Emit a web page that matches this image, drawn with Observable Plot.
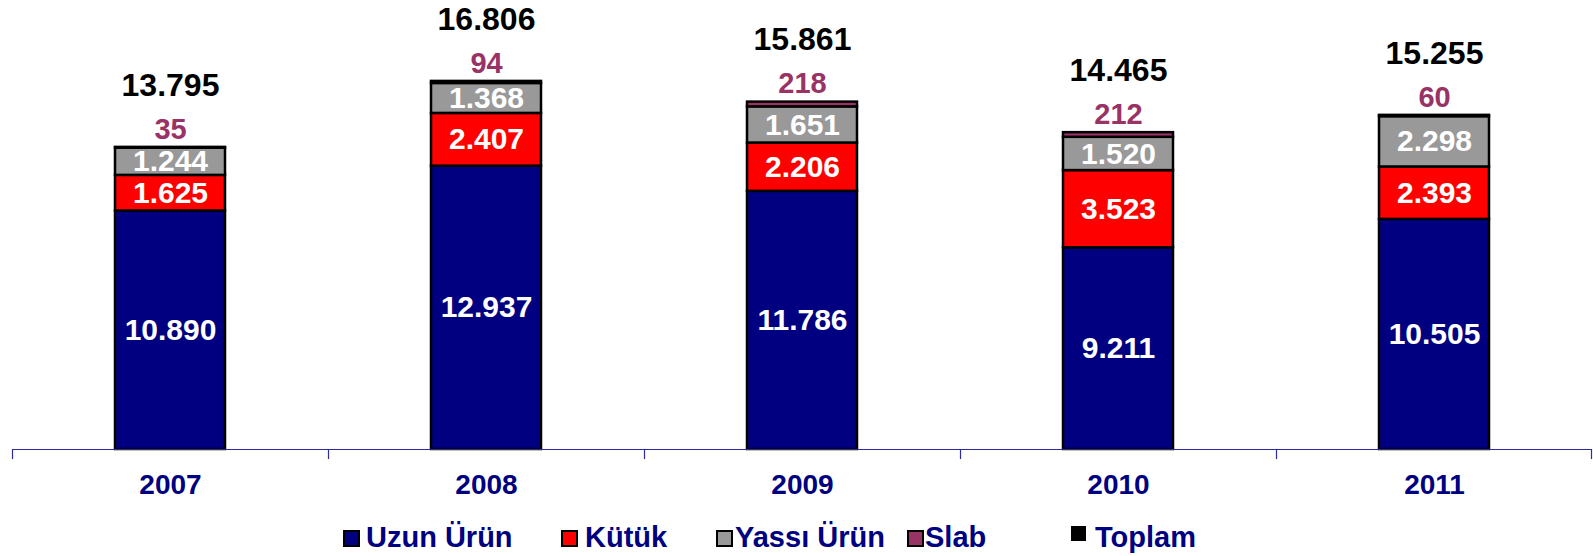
<!DOCTYPE html>
<html>
<head>
<meta charset="utf-8">
<script src="https://cdn.jsdelivr.net/npm/d3@7"></script>
<script src="https://cdn.jsdelivr.net/npm/@observablehq/plot@0.6"></script>
<style>
  body { margin: 0; background: #fff; font-family: "Liberation Sans", Arial, sans-serif; }
  #legend { position: relative; width: 1593px; height: 51px; }
  .sw { position: absolute; box-sizing: border-box; }
  .lt { position: absolute; font-size: 29px; line-height: 29px; font-weight: bold; color: #000080; white-space: nowrap; }
</style>
</head>
<body>
<div id="chart"></div>
<div id="legend"></div>
<script>
const years = ["2007", "2008", "2009", "2010", "2011"];
const uzun = [10890, 12937, 11786, 9211, 10505];
const kutuk = [1625, 2407, 2206, 3523, 2393];
const yassi = [1244, 1368, 1651, 1520, 2298];
const slab = [35, 94, 218, 212, 60];
const toplam = [13795, 16806, 15861, 14465, 15255];
const seriesNames = ["Uzun Ürün", "Kütük", "Yassı Ürün", "Slab", "Toplam"];
const seriesColors = ["#000080", "#FF0000", "#999999", "#993366", "#000000"];

const fmt = d3.formatLocale({decimal: ",", thousands: ".", grouping: [3], currency: ["", ""]}).format(",d");

const stacked = [uzun, kutuk, yassi, slab];
const segments = [];
years.forEach((yr, i) => {
  let cum = 0;
  stacked.forEach((arr, s) => {
    const v = arr[i];
    segments.push({year: yr, series: seriesNames[s], s, value: v, y1: cum, y2: cum + v});
    cum += v;
  });
});
const tops = years.map((yr, i) => ({year: yr, top: segments.filter(d => d.year === yr).slice(-1)[0].y2, slab: slab[i], total: toplam[i]}));

const W = 1593, H = 505, ml = 12, mr = 1;
const step = (W - ml - mr) / years.length;
const ff = "'Liberation Sans', Arial, sans-serif";

const chart = Plot.plot({
  width: W,
  height: H,
  marginLeft: ml,
  marginRight: mr,
  marginTop: 0,
  marginBottom: 56,
  style: {fontFamily: ff, background: "#fff"},
  x: {domain: years, paddingInner: 0.652, paddingOuter: 0.326, label: null},
  y: {domain: [0, 20500], axis: null},
  color: {domain: seriesNames, range: seriesColors},
  marks: [
    Plot.barY(segments, {x: "year", y1: "y1", y2: "y2", fill: "series", stroke: "#000", strokeWidth: 2.5}),
    Plot.ruleY([0], {stroke: "#2B2BA0", strokeWidth: 1.2}),
    Plot.ruleX(years, {x: d => d, dx: -step / 2, y1: 0, y2: -460, stroke: "#2B2BA0", strokeWidth: 1.2}),
    Plot.ruleX([years[years.length - 1]], {x: d => d, dx: step / 2 - 1, y1: 0, y2: -460, stroke: "#2B2BA0", strokeWidth: 1.2}),
    Plot.text(segments.filter(d => d.s < 3), {x: "year", y: d => (d.y1 + d.y2) / 2, text: d => fmt(d.value), fill: "#fff", fontSize: 30, fontWeight: "bold"}),
    Plot.text(tops, {x: "year", y: "top", dy: -18, text: d => fmt(d.slab), fill: "#993366", fontSize: 29, fontWeight: "bold"}),
    Plot.text(tops, {x: "year", y: "top", dy: -62, text: d => fmt(d.total), fill: "#000", fontSize: 32, fontWeight: "bold"}),
    Plot.axisX({tickSize: 0, tickPadding: 25, fontSize: 28, fontWeight: "bold", fill: "#000080", fontFamily: ff})
  ]
});
document.getElementById("chart").appendChild(chart);

// legend
const legend = document.getElementById("legend");
const swLeft = [343, 561, 716, 907, 1071];
const txLeft = [366, 585, 735, 925, 1095];
seriesNames.forEach((name, i) => {
  const sw = document.createElement("div");
  sw.className = "sw";
  if (i < 4) {
    sw.style.cssText = `left:${swLeft[i]}px;top:25px;width:17px;height:17px;background:${seriesColors[i]};border:2px solid #000;`;
  } else {
    sw.style.cssText = `left:${swLeft[i]}px;top:21px;width:15px;height:15px;background:#000;`;
  }
  legend.appendChild(sw);
  const t = document.createElement("div");
  t.className = "lt";
  t.style.left = txLeft[i] + "px";
  t.style.top = "18px";
  t.textContent = name;
  legend.appendChild(t);
});
</script>
</body>
</html>
